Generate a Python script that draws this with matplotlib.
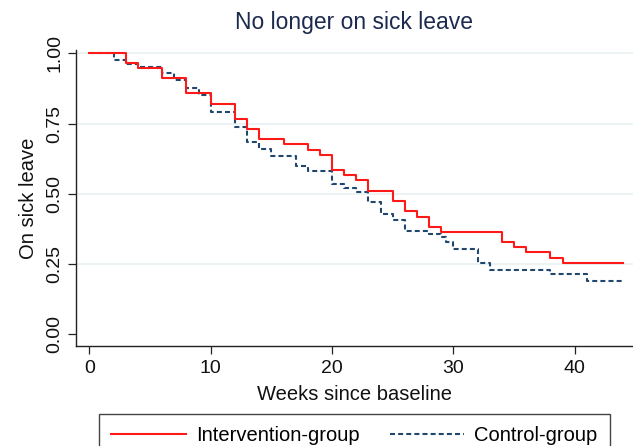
import numpy as np
import matplotlib.pyplot as plt

plt.rcParams['font.family'] = ['Liberation Sans', 'DejaVu Sans']

# Kaplan-Meier steps (weeks, proportion on sick leave)
int_weeks = [0, 3, 4, 6, 8, 10, 12, 13, 14, 16, 18, 19, 20, 21, 22, 23,
             25, 26, 27, 28, 29, 34, 35, 36, 38, 39, 44]
int_surv = [1.0, 0.964, 0.947, 0.911, 0.858, 0.82, 0.765, 0.73, 0.694, 0.676,
            0.656, 0.638, 0.585, 0.566, 0.548, 0.511, 0.474, 0.439, 0.419,
            0.383, 0.365, 0.33, 0.31, 0.292, 0.273, 0.255, 0.255]

ctl_weeks = [0, 2, 3, 4, 6, 7, 8, 9, 10, 12, 13, 14, 15, 17, 18, 20, 21, 22,
             23, 24, 25, 26, 28, 29, 29.4, 30, 32, 33, 38, 41, 44]
ctl_surv = [1.0, 0.976, 0.962, 0.952, 0.929, 0.905, 0.875, 0.852, 0.79, 0.737,
            0.685, 0.66, 0.634, 0.599, 0.582, 0.534, 0.52, 0.507, 0.47, 0.43,
            0.407, 0.369, 0.357, 0.345, 0.33, 0.304, 0.255, 0.229, 0.214,
            0.191, 0.191]

xticks = [0, 10, 20, 30, 40]
yticks = [0.0, 0.25, 0.5, 0.75, 1.0]
ytick_labels = ['0.00', '0.25', '0.50', '0.75', '1.00']

fig = plt.figure(figsize=(6.33, 4.46), dpi=100)
ax = fig.add_axes([76 / 633, 1 - 346 / 446, (633 - 76) / 633, (346 - 50) / 446])

for v in yticks[1:]:
    ax.axhline(v, color='#e9f1f2', lw=1.2, zorder=0)

ax.step(int_weeks, int_surv, where='post', color='#ff1a1a', lw=1.5,
        label='Intervention-group', zorder=3)
ax.step(ctl_weeks, ctl_surv, where='post', color='#1f4770', lw=1.5,
        linestyle=(0, (2.4, 1.5)), label='Control-group', zorder=2)

ax.set_xlim(-1.1, 44.8)
ax.set_ylim(-0.0416, 1.012)
ax.set_xticks(xticks)
ax.set_yticks(yticks)
ax.set_yticklabels(ytick_labels, rotation=90, va='center')

for s in ['top', 'right']:
    ax.spines[s].set_visible(False)
for s in ['left', 'bottom']:
    ax.spines[s].set_color('#222222')
    ax.spines[s].set_linewidth(1.0)

ax.tick_params(axis='both', direction='out', length=6, width=0.9,
               color='#222222', labelsize=14, labelcolor='#111111')
ax.tick_params(axis='x', pad=4)
ax.tick_params(axis='y', pad=3)

ax.set_xlabel('Weeks since baseline', fontsize=14.5, color='#111111', labelpad=6)
ax.set_ylabel('On sick leave', fontsize=14.5, color='#111111', labelpad=6)

fig.text(354 / 633, 1 - 22 / 446, 'No longer on sick leave', fontsize=16.5,
         color='#1c2a4f', ha='center', va='center')

fig.legend(loc='upper center', bbox_to_anchor=(354.5 / 633, 1 - 414 / 446),
           ncol=2, fontsize=14.5, frameon=True, fancybox=False,
           edgecolor='#444444', framealpha=1, handlelength=3.7,
           handletextpad=0.5, columnspacing=1.5, borderpad=0.6,
           borderaxespad=0)

fig.savefig('out.png', dpi=100)
